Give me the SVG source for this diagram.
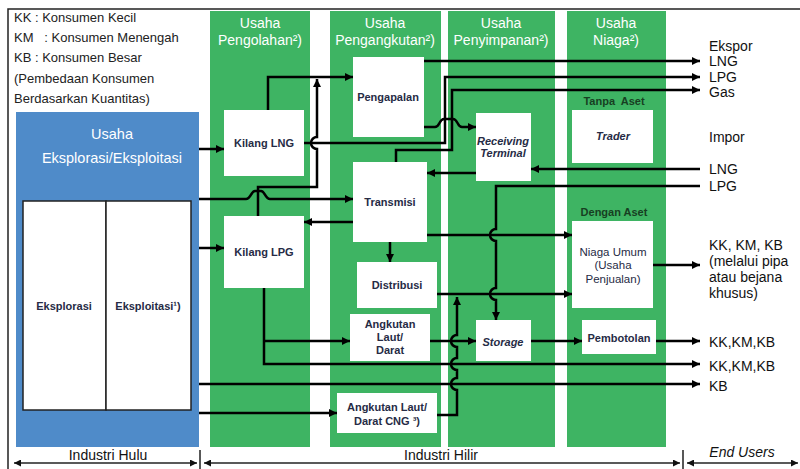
<svg xmlns="http://www.w3.org/2000/svg" width="800" height="469" viewBox="0 0 800 469">
<style>
text{font-family:"Liberation Sans",Arial,sans-serif}
.col{fill:#3eb463}
.hdr{fill:#ffffff;font-size:14px;text-anchor:middle}
.box{fill:#ffffff}
.nt{fill:#262b45;font-size:11px;font-weight:bold;text-anchor:middle}
.nr{fill:#262b45;font-size:11.5px;text-anchor:middle}
.ni{fill:#262b45;font-size:11px;font-weight:bold;font-style:italic;text-anchor:middle}
.sub{fill:#173f22;font-size:11px;font-weight:bold;text-anchor:middle}
.lbl{fill:#111;font-size:14px}
.leg{fill:#222;font-size:13px}
.ln{fill:none;stroke:#000;stroke-width:2.5;stroke-linejoin:miter}
.ar{marker-end:url(#ah)}
.thin{fill:none;stroke:#222;stroke-width:1.5}
.dbl{marker-start:url(#sh);marker-end:url(#sh)}
</style>
<defs>
<marker id="ah" viewBox="0 0 10 10" refX="10" refY="5" markerWidth="9" markerHeight="8" markerUnits="userSpaceOnUse" orient="auto"><path d="M0,0 L10,5 L0,10 z" fill="#000"/></marker>
<marker id="sh" viewBox="0 0 10 10" refX="10" refY="5" markerWidth="9" markerHeight="7" markerUnits="userSpaceOnUse" orient="auto-start-reverse"><path d="M0,0 L10,5 L0,10 z" fill="#111"/></marker>
</defs>
<rect width="800" height="469" fill="#ffffff"/>
<path class="thin" d="M8,469 V9 H800"/>

<g id="legend">
<text class="leg" x="14" y="22">KK : Konsumen Kecil</text>
<text class="leg" x="14" y="42" xml:space="preserve">KM   : Konsumen Menengah</text>
<text class="leg" x="14" y="62">KB : Konsumen Besar</text>
<text class="leg" x="14" y="83">(Pembedaan Konsumen</text>
<text class="leg" x="14" y="103">Berdasarkan Kuantitas)</text>
</g>

<g id="hulu">
<rect x="16" y="112" width="183" height="335" fill="#4f8bc9"/>
<text x="112" y="139" fill="#ffffff" font-size="14.5" text-anchor="middle">Usaha</text>
<text x="112" y="163" fill="#ffffff" font-size="14.5" text-anchor="middle">Eksplorasi/Eksploitasi</text>
</g>
<g id="eksplorasi">
<rect x="23" y="201" width="83" height="209" fill="#ffffff" stroke="#222" stroke-width="1.5"/>
<text class="nt" x="64" y="310" font-size="10.5">Eksplorasi</text>
</g>
<g id="eksploitasi">
<rect x="106" y="201" width="85" height="209" fill="#ffffff" stroke="#222" stroke-width="1.5"/>
<text class="nt" x="148" y="310" font-size="10.5">Eksploitasi¹)</text>
</g>

<g id="col-pengolahan">
<rect class="col" x="210" y="11" width="100" height="436"/>
<text class="hdr" x="260" y="28">Usaha</text>
<text class="hdr" x="260" y="45">Pengolahan²)</text>
</g>
<g id="col-pengangkutan">
<rect class="col" x="330" y="11" width="111" height="436"/>
<text class="hdr" x="385" y="28">Usaha</text>
<text class="hdr" x="385" y="45">Pengangkutan²)</text>
</g>
<g id="col-penyimpanan">
<rect class="col" x="448" y="11" width="107" height="436"/>
<text class="hdr" x="501" y="28">Usaha</text>
<text class="hdr" x="501" y="45">Penyimpanan²)</text>
</g>
<g id="col-niaga">
<rect class="col" x="567" y="11" width="99" height="436"/>
<text class="hdr" x="616" y="28">Usaha</text>
<text class="hdr" x="616" y="45">Niaga²)</text>
<text class="sub" x="614" y="105" xml:space="preserve">Tanpa  Aset</text>
<text class="sub" x="614" y="216">Dengan Aset</text>
</g>

<g id="kilang-lng"><rect class="box" x="224" y="110" width="80" height="66"/><text class="nt" x="264" y="147">Kilang LNG</text></g>
<g id="kilang-lpg"><rect class="box" x="224" y="216" width="80" height="72"/><text class="nt" x="264" y="256">Kilang LPG</text></g>
<g id="pengapalan"><rect class="box" x="353" y="57" width="71" height="80"/><text class="nt" x="388" y="101">Pengapalan</text></g>
<g id="transmisi"><rect class="box" x="353" y="162" width="74" height="80"/><text class="nt" x="390" y="206">Transmisi</text></g>
<g id="distribusi"><rect class="box" x="357" y="262" width="80" height="46"/><text class="nt" x="397" y="289">Distribusi</text></g>
<g id="angkutan"><rect class="box" x="350" y="314" width="80" height="47"/><text class="nt" x="390" y="328">Angkutan</text><text class="nt" x="390" y="341">Laut/</text><text class="nt" x="390" y="354">Darat</text></g>
<g id="angkutan-cng"><rect class="box" x="337" y="393" width="100" height="40"/><text class="nt" x="387" y="411">Angkutan Laut/</text><text class="nt" x="387" y="425">Darat CNG ³)</text></g>
<g id="receiving"><rect class="box" x="476" y="113" width="55" height="68"/><text class="ni" x="503" y="145" font-size="9.5">Receiving</text><text class="ni" x="503" y="157" font-size="9.5">Terminal</text></g>
<g id="storage"><rect class="box" x="476" y="320" width="55" height="41"/><text class="ni" x="503" y="346">Storage</text></g>
<g id="trader"><rect class="box" x="572" y="110" width="81" height="53"/><text class="ni" x="613" y="140">Trader</text></g>
<g id="niaga-umum"><rect class="box" x="572" y="221" width="81" height="87"/><text class="nr" x="613" y="256">Niaga Umum</text><text class="nr" x="613" y="269">(Usaha</text><text class="nr" x="613" y="283">Penjualan)</text></g>
<g id="pembotolan"><rect class="box" x="582" y="320" width="74" height="34"/><text class="nt" x="619" y="342">Pembotolan</text></g>

<g id="connectors">
<path class="ln ar" d="M199,149 H224"/>
<path class="ln ar" d="M199,248 H224"/>
<path class="ln ar" d="M199,199 H246 C251,199 251,191 255,191 H261 C265,191 265,199 270,199 H353"/>
<path class="ln ar" d="M268,110 V77 H353"/>
<path class="ln ar" d="M258,216 V187 H317 V149 A6,6 0 0 1 317,137 V79"/>
<path class="ln ar" d="M304,143 H445 V77 H700" stroke-width="3.5"/>
<path class="ln ar" d="M424,61 H700"/>
<path class="ln ar" d="M396,162 V150 H452 V90 H700"/>
<path class="ln ar" d="M424,127 H435 C440,127 439,119 444,119 H453 C458,119 457,127 462,127 H476"/>
<path class="ln ar" d="M390,242 V262"/>
<path class="ln ar" d="M353,222 H304"/>
<path class="ln ar" d="M476,173 H427"/>
<path class="ln ar" d="M700,169 H531"/>
<path class="ln ar" d="M700,186 H496 V229 A6,6 0 0 0 496,241 V288 A6,6 0 0 0 496,300 V320"/>
<path class="ln ar" d="M427,235 H572"/>
<path class="ln ar" d="M437,294 H572"/>
<path class="ln ar" d="M653,265 H700"/>
<path class="ln ar" d="M264,288 V364 H700"/>
<path class="ln ar" d="M264,341 H350"/>
<path class="ln ar" d="M430,341 H476"/>
<path class="ln ar" d="M531,341 H582"/>
<path class="ln ar" d="M656,341 H700"/>
<path class="ln ar" d="M199,384 H700"/>
<path class="ln ar" d="M199,413 H337"/>
<path class="ln ar" d="M437,415 H457 V390 A6,6 0 0 1 457,378 V370 A6,6 0 0 1 457,358 V347 A6,6 0 0 1 457,335 V297"/>
</g>

<g id="labels">
<text class="lbl" x="709" y="51">Ekspor</text>
<text class="lbl" x="709" y="66">LNG</text>
<text class="lbl" x="709" y="82">LPG</text>
<text class="lbl" x="709" y="97">Gas</text>
<text class="lbl" x="709" y="142">Impor</text>
<text class="lbl" x="709" y="174">LNG</text>
<text class="lbl" x="709" y="191">LPG</text>
<text class="lbl" x="709" y="250">KK, KM, KB</text>
<text class="lbl" x="709" y="266">(melalui pipa</text>
<text class="lbl" x="709" y="282">atau bejana</text>
<text class="lbl" x="709" y="298">khusus)</text>
<text class="lbl" x="709" y="347">KK,KM,KB</text>
<text class="lbl" x="709" y="371">KK,KM,KB</text>
<text class="lbl" x="709" y="391">KB</text>
</g>

<g id="industry-scale">
<path class="thin" d="M200,450 V469 M683,450 V469"/>
<path class="thin dbl" d="M14,463 H197"/>
<path class="thin dbl" d="M204,463 H680"/>
<path class="thin dbl" d="M687,463 H798"/>
<text x="108" y="460" font-size="14" fill="#111" text-anchor="middle">Industri Hulu</text>
<text x="441" y="460" font-size="14" fill="#111" text-anchor="middle">Industri Hilir</text>
<text x="742" y="457" font-size="14" fill="#111" font-style="italic" text-anchor="middle">End Users</text>
</g>
</svg>
